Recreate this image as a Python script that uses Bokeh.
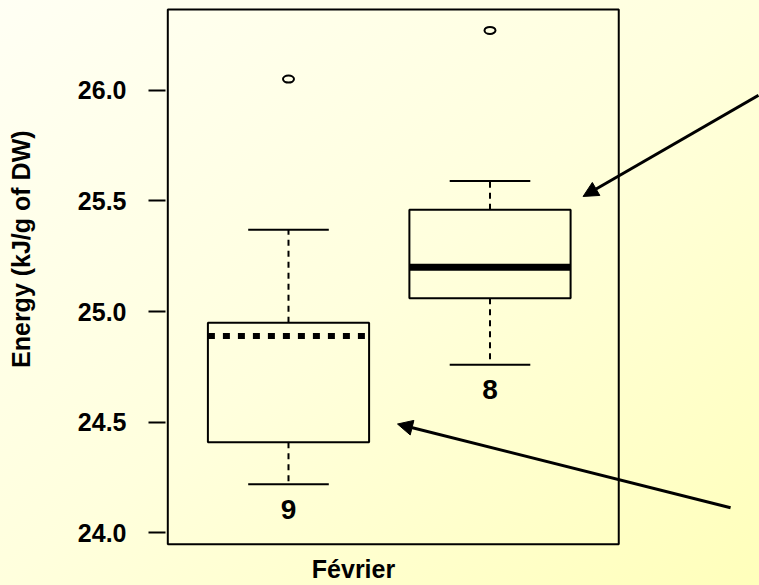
from bokeh.plotting import figure
from bokeh.models import (FixedTicker, Arrow, NormalHead, Range1d,
                          CustomJSTickFormatter, NumeralTickFormatter)
from bokeh.core.properties import value
from bokeh.embed import file_html
from bokeh.resources import INLINE

# ---------------- data ----------------
positions = [1, 2]
n_obs = [9, 8]
q1 = [24.41, 25.06]
medians = [24.89, 25.20]
q3 = [24.95, 25.46]
whisker_low = [24.22, 24.76]
whisker_high = [25.37, 25.59]
outliers = [26.05, 26.27]
y_ticks = [24.0, 24.5, 25.0, 25.5, 26.0]
x_label = "Février"
y_label = "Energy (kJ/g of DW)"

# plot box (drawn frame) in data coordinates
box_x = [0.401, 2.639]
box_y = [23.9487, 26.3645]

# annotation arrows (data coordinates)
arrow_x_start = [3.3325, 3.194]
arrow_y_start = [25.977, 24.114]
arrow_x_end = [2.462, 1.541]
arrow_y_end = [25.52, 24.492]

FONT = "Liberation Sans"
BOX_W = 0.8
CAP_W = 0.4

p = figure(width=759, height=585, output_backend="svg", toolbar_location=None,
           x_range=Range1d(0.38958, 3.3375), y_range=Range1d(23.9388, 26.3735),
           min_border_left=165, min_border_right=0, min_border_top=7,
           min_border_bottom=37)
p.styles = {"background": "linear-gradient(to bottom right, #FFFFF4 0%, #FFFFDD 50%, #FFFFBB 100%)"}
p.background_fill_alpha = 0
p.border_fill_alpha = 0
p.outline_line_color = None
p.grid.visible = False

# y axis
p.yaxis.ticker = FixedTicker(ticks=y_ticks)
p.yaxis.formatter = NumeralTickFormatter(format="0.0")
p.yaxis.axis_line_color = None
p.yaxis.major_tick_out = 17
p.yaxis.major_tick_in = 0
p.yaxis.major_tick_line_width = 2
p.yaxis.minor_tick_line_color = None
p.yaxis.major_label_standoff = 22
p.yaxis.major_label_text_font = FONT
p.yaxis.major_label_text_font_style = "bold"
p.yaxis.major_label_text_font_size = "25px"
p.yaxis.major_label_text_color = "black"
p.yaxis.axis_label = "\u00a0" * 8 + y_label
p.yaxis.axis_label_standoff = 40
p.yaxis.axis_label_text_font = FONT
p.yaxis.axis_label_text_font_style = "bold"
p.yaxis.axis_label_text_font_size = "25px"
p.yaxis.axis_label_text_color = "black"

# x axis: single label
p.xaxis.ticker = FixedTicker(ticks=[1.3226])
p.xaxis.formatter = CustomJSTickFormatter(args=dict(lbl=x_label), code="return lbl;")
p.xaxis.axis_line_color = None
p.xaxis.major_tick_line_color = None
p.xaxis.major_tick_out = 0
p.xaxis.major_tick_in = 0
p.xaxis.minor_tick_line_color = None
p.xaxis.minor_tick_out = 0
p.xaxis.major_label_standoff = 8
p.xaxis.major_label_text_font = FONT
p.xaxis.major_label_text_font_style = "bold"
p.xaxis.major_label_text_font_size = "25px"
p.xaxis.major_label_text_color = "black"

# plot box
p.quad(left=box_x[:1], right=box_x[1:], bottom=box_y[:1], top=box_y[1:],
       fill_color=None, line_color="black", line_width=2)

# whiskers (dashed)
p.segment(x0=positions, y0=q3, x1=positions, y1=whisker_high,
          line_color="black", line_width=2, line_dash="6 5")
p.segment(x0=positions, y0=q1, x1=positions, y1=whisker_low,
          line_color="black", line_width=2, line_dash="6 5")
# caps
cap_l = [x - CAP_W / 2 for x in positions]
cap_r = [x + CAP_W / 2 for x in positions]
p.segment(x0=cap_l, y0=whisker_high, x1=cap_r, y1=whisker_high, line_color="black", line_width=2)
p.segment(x0=cap_l, y0=whisker_low, x1=cap_r, y1=whisker_low, line_color="black", line_width=2)
# boxes
p.vbar(x=positions, width=BOX_W, bottom=q1, top=q3, fill_color=None,
       line_color="black", line_width=2)
# medians: first dotted, second thick solid
box_l = [x - BOX_W / 2 for x in positions]
box_r = [x + BOX_W / 2 for x in positions]
p.segment(x0=box_l[:1], y0=medians[:1], x1=box_r[:1], y1=medians[:1],
          line_color="black", line_width=6, line_dash="7 8")
p.segment(x0=box_l[1:], y0=medians[1:], x1=box_r[1:], y1=medians[1:],
          line_color="black", line_width=7)
# outliers
p.ellipse(x=positions, y=outliers, width=11, height=7, width_units="screen",
          height_units="screen", fill_color=None, line_color="black", line_width=2)
# counts
p.text(x=positions, y=whisker_low, text=[str(n) for n in n_obs], text_align="center",
       text_baseline="middle", y_offset=25, text_font=value(FONT),
       text_font_style="bold", text_font_size="28px", text_color="black")

# arrows
for xs, ys, xe, ye in zip(arrow_x_start, arrow_y_start, arrow_x_end, arrow_y_end):
    p.add_layout(Arrow(end=NormalHead(size=15, fill_color="black", line_color="black", line_width=1),
                       x_start=xs, y_start=ys, x_end=xe, y_end=ye,
                       line_color="black", line_width=3))

open("out.html", "w").write(file_html(p, INLINE))
